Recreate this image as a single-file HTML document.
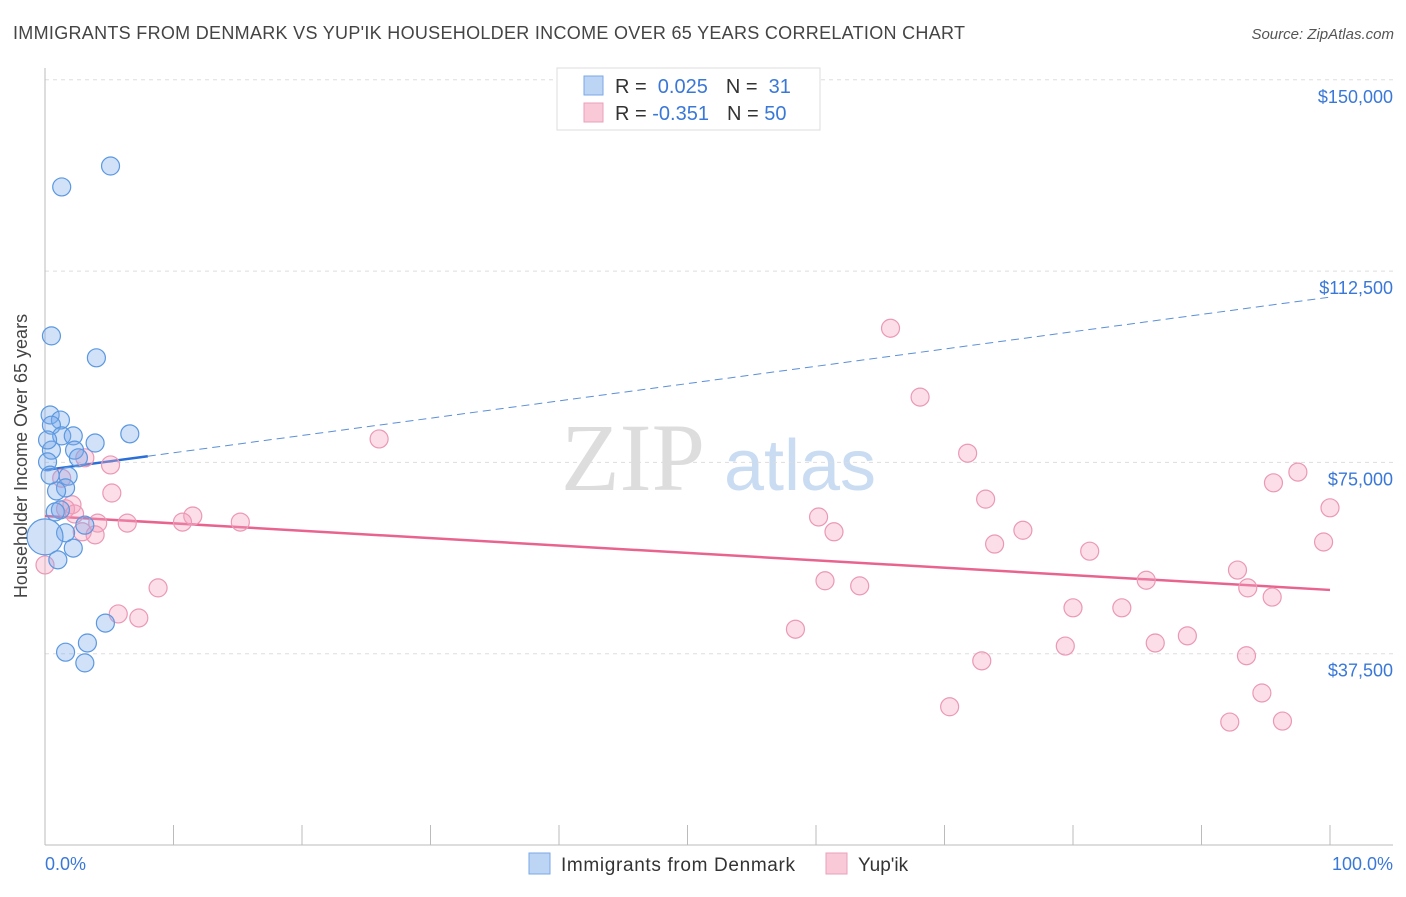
<!DOCTYPE html>
<html><head><meta charset="utf-8"><style>
body{margin:0;background:#fff;font-family:"Liberation Sans",sans-serif}
</style></head><body>
<svg width="1406" height="892" xmlns="http://www.w3.org/2000/svg" style="font-family:'Liberation Sans',sans-serif">
<text x="13" y="39" font-size="18" fill="#444" textLength="952">IMMIGRANTS FROM DENMARK VS YUP'IK HOUSEHOLDER INCOME OVER 65 YEARS CORRELATION CHART</text>
<text x="1394" y="39" font-size="15" fill="#555" text-anchor="end" font-style="italic">Source: ZipAtlas.com</text>
<g>
<text x="633" y="490" font-size="96" fill="#ddd" text-anchor="middle" font-family="Liberation Serif,serif">ZIP</text>
<text x="800" y="490" font-size="72" fill="#c9dcf2" text-anchor="middle">atlas</text>
</g>
<g id="grid"></g>
<g id="axes"></g>
<g id="trends"></g>
<g id="pts"></g>
<text x="27" y="456" font-size="18" fill="#444" text-anchor="middle" transform="rotate(-90 27 456)">Householder Income Over 65 years</text>
<text x="45" y="870" font-size="18" fill="#3a78d8">0.0%</text>
<text x="1393" y="870" font-size="18" fill="#3a78d8" text-anchor="end">100.0%</text>
<g>
<rect x="557" y="68" width="263" height="62" fill="#fff" stroke="#ddd"/>
<rect x="584" y="76" width="19" height="19" fill="#bcd5f5" stroke="#7aa8e6"/>
<rect x="584" y="103" width="19" height="19" fill="#f9c9d8" stroke="#eaa0bb"/>
<text x="615" y="93" font-size="20" fill="#333">R = <tspan fill="#3a78d8">&#160;0.025</tspan><tspan dx="18">N = </tspan><tspan fill="#3a78d8">&#160;31</tspan></text>
<text x="615" y="120" font-size="20" fill="#333">R = <tspan fill="#3a78d8">-0.351</tspan><tspan dx="18">N = </tspan><tspan fill="#3a78d8">50</tspan></text>
</g>
<g>
<rect x="529" y="853" width="21" height="21" fill="#bcd5f5" stroke="#7aa8e6"/>
<text x="561" y="871" font-size="19" fill="#333" textLength="234">Immigrants from Denmark</text>
<rect x="826" y="853" width="21" height="21" fill="#f9c9d8" stroke="#eaa0bb"/>
<text x="858" y="871" font-size="19" fill="#333">Yup'ik</text>
</g>
</svg>
<script>
const yTicks=[37500,75000,112500,150000];
const yTickLabels=["$37,500","$75,000","$112,500","$150,000"];
const blueX=[5.1,1.3,0.5,4.0,0.4,1.2,0.5,1.3,2.2,6.6,3.9,0.5,2.3,2.6,0.2,1.8,1.6,0.9,1.2,0.8,3.1,1.6,0,2.2,1.0,4.7,3.3,1.6,3.1,0.4,0.2];
const blueY=[133.1,129.0,99.8,95.5,84.3,83.3,82.3,80.2,80.2,80.6,78.8,77.4,77.4,75.9,75.1,72.3,70.0,69.4,65.7,65.3,62.7,61.2,60.4,58.2,55.9,43.5,39.6,37.8,35.7,72.5,79.4];
const pinkX=[65.8,68.1,26.0,71.8,5.1,3.1,97.5,95.6,1.3,5.2,73.2,2.1,100,60.2,11.5,10.7,15.2,6.4,4.1,2.9,3.9,61.4,76.1,73.9,99.5,81.3,0,92.8,85.7,60.7,63.4,93.6,95.5,8.8,5.7,7.3,80.0,83.8,58.4,88.9,86.4,79.4,93.5,72.9,94.7,70.4,92.2,96.3,1.6,2.3];
const pinkY=[101.3,87.8,79.6,76.8,74.5,75.9,73.1,71.0,71.9,69.0,67.8,66.7,66.1,64.3,64.5,63.3,63.3,63.1,63.1,61.4,60.8,61.4,61.7,59.0,59.4,57.6,54.9,53.9,51.9,51.8,50.8,50.4,48.6,50.4,45.3,44.5,46.5,46.5,42.3,41.0,39.6,39.0,37.1,36.1,29.8,27.1,24.1,24.3,65.9,64.9];
const blueTrend=[73.5,107.4];
const pinkTrend=[64.5,50.0];
const NS="http://www.w3.org/2000/svg";
const X=v=>45+v*12.85, Y=v=>845-v*1000/196.03;
function mk(t,a,p){const e=document.createElementNS(NS,t);for(const k in a)e.setAttribute(k,a[k]);p.appendChild(e);return e;}
const grid=document.getElementById('grid'),axes=document.getElementById('axes'),tr=document.getElementById('trends'),pts=document.getElementById('pts');
yTicks.forEach((t,i)=>{const y=Y(t/1000);
const l=mk('line',{x1:45,x2:1393,y1:y,y2:y,stroke:'#ddd','stroke-dasharray':'4 4'},grid);

const tx=mk('text',{x:1393,y:y+23,'font-size':18,fill:'#3a78d8','text-anchor':'end'},grid);tx.textContent=yTickLabels[i];
});
mk('line',{x1:45,x2:45,y1:68,y2:845,stroke:'#bbb'},axes);
mk('line',{x1:45,x2:1393,y1:845,y2:845,stroke:'#bbb'},axes);
for(let i=0;i<=10;i++){const x=X(i*10);const t=mk('line',{x1:x,x2:x,y1:825,y2:845,stroke:'#bbb'},axes);
}
function dot(x,y,f,s,r){const c=mk('circle',{cx:X(x),cy:Y(y),r:r,fill:f,stroke:s,'stroke-width':1.2},pts);return c;}
pinkX.forEach((x,i)=>{const c=dot(x,pinkY[i],'rgba(244,160,190,0.35)','#eb98b6',9);
});
blueX.forEach((x,i)=>{const c=dot(x,blueY[i],'rgba(120,170,235,0.35)','#5b98e0',x===0?18:9);
});
const bAt=v=>blueTrend[0]+(blueTrend[1]-blueTrend[0])*v/100;
let l1=mk('line',{x1:X(0),y1:Y(bAt(0)),x2:X(8),y2:Y(bAt(8)),stroke:'#2a6fd6','stroke-width':2.5},tr);

let l2=mk('line',{x1:X(8),y1:Y(bAt(8)),x2:X(100),y2:Y(bAt(100)),stroke:'#5b8fd8','stroke-width':1,'stroke-dasharray':'8 5'},tr);

let l3=mk('line',{x1:X(0),y1:Y(pinkTrend[0]),x2:X(100),y2:Y(pinkTrend[1]),stroke:'#e8648f','stroke-width':2.5},tr);

</script>
</body></html>
